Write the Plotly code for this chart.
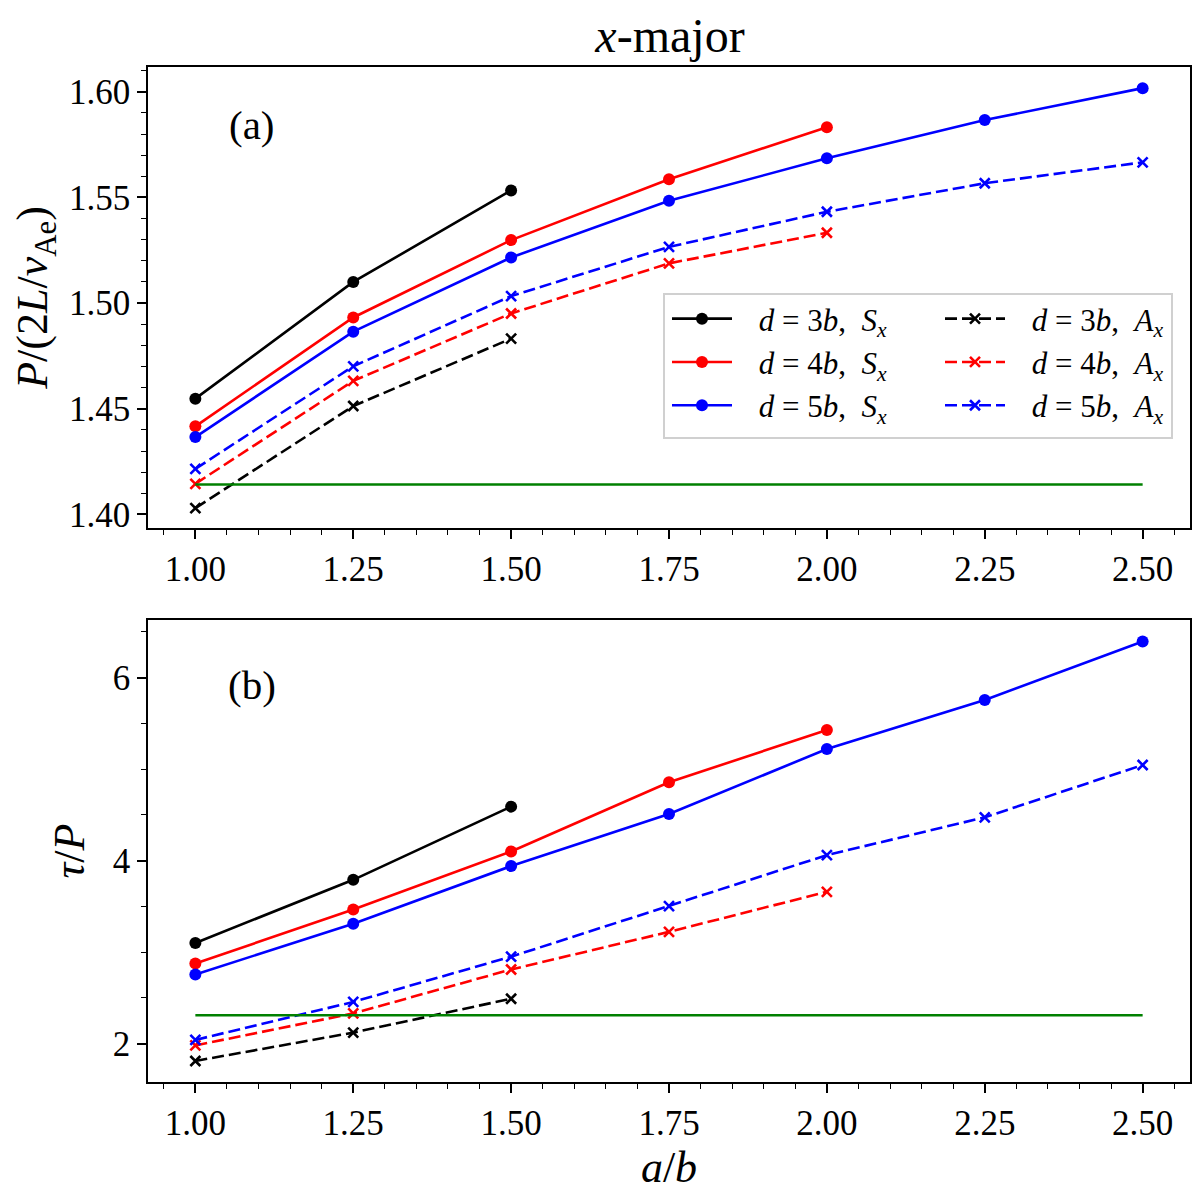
import plotly.graph_objects as go
from plotly.subplots import make_subplots

# Data
ab = [1.00, 1.25, 1.50, 1.75, 2.00, 2.25, 2.50]

# (a) period P/(2L/v_Ae)
p_s3 = [1.4548, 1.5100, 1.5533]
p_s4 = [1.4417, 1.4932, 1.5298, 1.5586, 1.5832]
p_s5 = [1.4366, 1.4865, 1.5216, 1.5484, 1.5685, 1.5866, 1.6017]
p_a3 = [1.4030, 1.4513, 1.4832]
p_a4 = [1.4145, 1.4632, 1.4951, 1.5188, 1.5333]
p_a5 = [1.4216, 1.4701, 1.5033, 1.5266, 1.5432, 1.5567, 1.5666]
p_ref = [1.41421, 1.41421]

# (b) damping tau/P
t_s3 = [3.10, 3.79, 4.59]
t_s4 = [2.875, 3.466, 4.10, 4.856, 5.428]
t_s5 = [2.755, 3.31, 3.94, 4.509, 5.220, 5.756, 6.394]
t_a3 = [1.81, 2.12, 2.49]
t_a4 = [1.98, 2.33, 2.81, 3.221, 3.659]
t_a5 = [2.04, 2.455, 2.95, 3.502, 4.060, 4.473, 5.045]
t_ref = [2.31, 2.31]

ref_x = [1.00, 2.50]

SP = "\u2002\u2009"
names_s = [SP + "<i>d</i> = 3<i>b</i>,  <i>S<sub>x</sub></i>",
           SP + "<i>d</i> = 4<i>b</i>,  <i>S<sub>x</sub></i>",
           SP + "<i>d</i> = 5<i>b</i>,  <i>S<sub>x</sub></i>"]
names_a = [SP + "<i>d</i> = 3<i>b</i>,  <i>A<sub>x</sub></i>",
           SP + "<i>d</i> = 4<i>b</i>,  <i>A<sub>x</sub></i>",
           SP + "<i>d</i> = 5<i>b</i>,  <i>A<sub>x</sub></i>"]
colors = ["black", "red", "blue"]

FONT = "Liberation Serif"
W, H = 1192, 1189   # page body has an 8px margin

fig = make_subplots(rows=2, cols=1)

def add_series(ys, row, name, color, sym, legend, show):
    x = ab[:len(ys)]
    if sym == "circle":
        line = dict(color=color, width=2.6)
        marker = dict(symbol="circle", size=12, color=color)
    else:
        line = dict(color=color, width=2.6, dash="12px,5px")
        marker = dict(symbol="x-thin", size=10, color=color,
                      line=dict(color=color, width=2.6))
    fig.add_trace(go.Scatter(x=x, y=ys, mode="lines+markers", name=name,
                             line=line, marker=marker, legend=legend,
                             showlegend=show), row=row, col=1)

top_s = [p_s3, p_s4, p_s5]
top_a = [p_a3, p_a4, p_a5]
bot_s = [t_s3, t_s4, t_s5]
bot_a = [t_a3, t_a4, t_a5]

for i in range(3):
    add_series(top_s[i], 1, names_s[i], colors[i], "circle", "legend", True)
for i in range(3):
    add_series(top_a[i], 1, names_a[i], colors[i], "x", "legend2", True)
for i in range(3):
    add_series(bot_s[i], 2, names_s[i], colors[i], "circle", "legend", False)
for i in range(3):
    add_series(bot_a[i], 2, names_a[i], colors[i], "x", "legend2", False)

fig.add_trace(go.Scatter(x=ref_x, y=p_ref, mode="lines", showlegend=False,
                         line=dict(color="green", width=2.6)), row=1, col=1)
fig.add_trace(go.Scatter(x=ref_x, y=t_ref, mode="lines", showlegend=False,
                         line=dict(color="green", width=2.6)), row=2, col=1)

axis_common = dict(showline=True, linecolor="black", linewidth=1.6, mirror=True,
                   ticks="outside", ticklen=9, tickwidth=1.6, tickcolor="black",
                   showgrid=False, zeroline=False, automargin=False,
                   tickfont=dict(family=FONT, size=35, color="black"))
minor_common = dict(ticks="outside", ticklen=5, tickwidth=1.2, tickcolor="black",
                    showgrid=False)
label_font = dict(family=FONT, size=44, color="black")

fig.update_xaxes(**axis_common, range=[0.925, 2.575], dtick=0.25, tick0=1.0,
                 tickformat=".2f", minor=dict(dtick=0.05, **minor_common),
                 domain=[140 / W, 1182 / W])
fig.update_xaxes(title=dict(text="<i>a</i>/<i>b</i>", standoff=2, font=label_font),
                 row=2, col=1)
fig.update_yaxes(**axis_common)
fig.update_yaxes(range=[1.3936, 1.6117], dtick=0.05, tick0=1.40, tickformat=".2f",
                 minor=dict(dtick=0.01, **minor_common),
                 domain=[1 - 520 / H, 1 - 59 / H],
                 title=dict(text="<i>P</i>/(2<i>L</i>/<i>v</i><sub>Ae</sub>)", standoff=14,
                            font=label_font),
                 row=1, col=1)
fig.update_yaxes(range=[1.58, 6.63], dtick=2, tick0=2,
                 minor=dict(dtick=0.5, **minor_common),
                 domain=[1 - 1074 / H, 1 - 612 / H],
                 title=dict(text="<i>τ</i>/<i>P</i>", standoff=14, font=label_font),
                 row=2, col=1)

legend_common = dict(bgcolor="rgba(0,0,0,0)", borderwidth=0, xanchor="left",
                     yanchor="top", tracegroupgap=0, itemwidth=60,
                     font=dict(family=FONT, size=31, color="black"))

fig.update_layout(
    width=W, height=H,
    margin=dict(l=0, r=0, t=0, b=0),
    paper_bgcolor="white", plot_bgcolor="white",
    title=dict(text="<i>x</i>-major", x=662 / W, xanchor="center", y=1 - 27 / H,
               yanchor="middle", font=dict(family=FONT, size=48, color="black")),
    legend=dict(x=659 / W, y=1 - 284 / H, **legend_common),
    legend2=dict(x=932 / W, y=1 - 284 / H, **legend_common),
    shapes=[dict(type="rect", xref="paper", yref="paper",
                 x0=656 / W, x1=1164 / W, y0=1 - 430 / H, y1=1 - 286 / H,
                 line=dict(color="#d0d0d0", width=2), fillcolor="white", layer="below")],
    annotations=[
        dict(text="(a)", xref="x domain", yref="y domain", x=0.0998, y=0.874,
             xanchor="center", yanchor="middle", showarrow=False,
             font=dict(family=FONT, size=41, color="black")),
        dict(text="(b)", xref="x2 domain", yref="y2 domain", x=0.0998, y=0.859,
             xanchor="center", yanchor="middle", showarrow=False,
             font=dict(family=FONT, size=41, color="black")),
    ],
)

fig.write_html("out.html")
